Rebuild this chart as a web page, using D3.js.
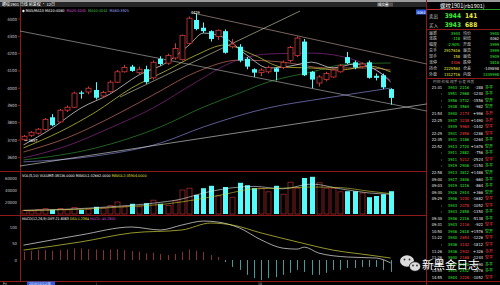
<!DOCTYPE html>
<html>
<head>
<meta charset="utf-8">
<script src="https://cdn.jsdelivr.net/npm/d3@7"></script>
<style>
body { margin: 0; background: #000; overflow: hidden; }
text { font-family: "DejaVu Sans Condensed", "DejaVu Sans", "Noto Sans CJK SC", sans-serif; }
.cn { font-family: "Noto Sans CJK SC", sans-serif; }
</style>
</head>
<body>
<svg id="chart" width="500" height="285"></svg>
<script>
// daily candles
var opens  = [3702,3728,3740,3762,3832,3805,3873,3890,3975,3978,3990,3955,3980,4035,4095,4125,4090,4110,4060,4170,
              4145,4175,4165,4260,4395,4350,4330,4300,4330,4240,4240,4170,4110,4090,4095,4115,4120,4160,4190,4270,
              4095,4030,4050,4065,4095,4180,4150,4125,4150,4072,4075,3995];
var highs  = [3730,3752,3770,3828,3850,3880,3900,3980,3985,4010,4035,3985,4045,4105,4135,4135,4125,4130,4160,4185,
              4200,4260,4310,4415,4429,4380,4335,4340,4340,4285,4255,4180,4115,4115,4130,4120,4160,4245,4300,4285,
              4100,4075,4095,4115,4140,4210,4160,4150,4160,4085,4085,4000];
var lows   = [3697,3718,3732,3755,3780,3798,3862,3885,3940,3965,3935,3945,3975,4030,4090,4095,4080,4025,4050,4130,
              4135,4165,4160,4250,4335,4320,4270,4280,4200,4230,4150,4110,4065,4070,4085,4045,4110,4150,4180,4070,
              4000,4010,4040,4060,4090,4140,4110,4115,4055,4045,3995,3905];
var closes = [3722,3745,3763,3820,3786,3873,3890,3972,3968,4000,3945,3975,4035,4095,4120,4100,4110,4035,4150,4140,
              4190,4230,4305,4405,4342,4330,4285,4335,4205,4255,4160,4125,4090,4105,4120,4095,4150,4235,4290,4075,
              4050,4065,4085,4105,4130,4145,4120,4140,4060,4060,4005,3944];
var volumes = [6000,5000,7000,9000,7000,9000,7000,11000,7000,8000,12000,10000,14000,20000,12000,17000,12000,18000,23000,17000,
               14000,22000,40000,43000,32000,43000,47000,30000,45000,28000,52000,48000,43000,43000,37000,47000,33000,53000,43000,60000,
               62000,52000,43000,43000,37000,38000,38000,35000,28000,30000,33000,38000];
var macdBars = [25,28,30,30,28,30,32,35,35,33,32,30,32,33,30,27,25,20,22,18,
                15,18,25,32,28,24,15,9,-6,-21,-30,-45,-55,-61,-55,-52,-45,-39,-30,-36,
                -45,-45,-39,-30,-30,-24,-24,-21,-21,-21,-30,-36];

// moving averages, read at a few candles: [candle, value]
var ma5  = [[0,3672],[4,3770],[8,3886],[12,3966],[16,4076],[20,4151],[23,4250],[25,4319],[28,4290],[31,4192],[34,4117],[37,4128],[40,4151],[43,4117],[46,4140],[49,4105],[51,4036]];
var ma10 = [[0,3655],[5,3747],[10,3862],[15,4001],[20,4105],[24,4192],[28,4250],[32,4192],[36,4122],[40,4117],[44,4105],[48,4128],[51,4094]];
var ma20 = [[0,3631],[6,3712],[12,3828],[18,3961],[24,4094],[30,4163],[36,4151],[42,4117],[48,4117],[51,4105]];
var ma40 = [[0,3597],[6,3666],[12,3770],[18,3886],[24,4036],[29,4151],[34,4198],[40,4203],[46,4163],[51,4047]];
var ma60 = [[0,3585],[10,3654],[19,3776],[25,3891],[30,3972],[34,4036],[40,4094],[45,4140],[51,4146]];
var ma120 = [[0,3574],[10,3608],[19,3683],[25,3776],[34,3886],[42,3943],[51,4001]];
var trendA = [[-0.5,4331],[56,3868]];
var trendB = [[23.5,4435],[56,4140]];
var trendC = [[13.4,3949],[38.4,4446]];
var trendD = [[-0.5,3550],[56,3909]];
var mavol1 = [[0,6000],[6,8000],[12,12000],[18,18000],[22,25000],[25,35000],[28,42000],[32,46000],[36,42000],[40,50000],[44,42000],[48,35000],[51,33000]];
var mavol2 = [[0,6000],[8,8000],[14,12000],[20,17000],[24,24000],[28,33000],[32,42000],[36,43000],[40,45000],[44,44000],[48,38000],[51,34000]];
var diff = [[0,45],[8,76],[15,100],[19,91],[22,106],[25,118],[27,115],[30,97],[33,61],[36,36],[38,33],[39,39],[41,21],[45,9],[49,6],[51,-9]];
var dea  = [[0,30],[8,55],[15,82],[22,91],[26,112],[29,106],[33,82],[38,55],[43,30],[48,15],[51,6]];

var priceTicks = [3600,3700,3800,3900,4000,4100,4200,4300,4400];
var volTicks = [20000,40000,60000];
var macdTicks = [0,50,100];

// quote panel
var quoteLeft  = [["最新","3944"],["涨跌","-118"],["幅度","-2.90%"],["总手","2917616"],["现手","158"],["涨停","4306"],["持仓","2229564"],["外盘","1312716"]];
var quoteRight = [["均价","3940"],["前结","4062"],["开盘","3999"],["最高","3999"],["最低","3909"],["跌停","3818"],["仓差","-149898"],["内盘","1339998"]];
var tickTimes  = ["21:31",":",":",":","21:54","22:25",":","22:29","22:35","22:52",":",":",":","22:58","09:00","09:03","09:30","09:29",":",":","09:30","09:31","10:50","11:22",":","11:26","11:26","13:31","13:55","14:55"];
var tickPrices = [3943,3951,3956,3938,3940,3937,3939,3931,3931,3913,3911,3911,3919,3913,3917,3919,3926,3946,3943,3943,3946,3943,3946,3940,3936,3936,3940,3937,3945,3944];
var tickVols   = [2216,2968,3732,3564,2174,3238,5964,2856,3186,2720,2882,5212,2906,3812,3846,3216,2914,3240,2078,2858,2216,2116,2618,2654,3142,2932,2168,2470,2532,2226];
var tickDiffs  = ["-288","-1240","-1556","-982","+996","+1490","-1442","-1286","-1264","+1676","-756","-2524","-1150","+1486","-660","-864","+366","-1682","-1052","-1350","-5138","-922","+1576","-1226","-1812","+326","-1244","-1090","-2876","-1052"];
var tickTypes  = ["多平","多平","空开","空开","多开","多开","空平","空平","多平","空开","多平","空平","多平","空开","多平","多平","空开","空平","空平","多平","多平","空平","空开","空平","空平","多开","空平","多平","多平","空平"];

var RED = "#d03a3a", CYAN = "#54fcfc", FRAME = "#8c1a1a";

var svg = d3.select("#chart");
svg.append("rect").attr("width", 500).attr("height", 285).attr("fill", "#000");

var x = d3.scaleLinear().domain([0, 51]).range([23.5, 390.7]);
var y = d3.scaleLinear().domain([3527, 4464]).range([170, 8]);
var yv = d3.scaleLinear().domain([0, 60000]).range([214, 178]);
var ym = d3.scaleLinear().domain([0, 100]).range([260, 227]);

var defs = svg.append("defs");
defs.append("clipPath").attr("id", "mainClip").append("rect").attr("x", 20).attr("y", 8).attr("width", 407).attr("height", 163);
defs.append("clipPath").attr("id", "macdClip").append("rect").attr("x", 20).attr("y", 216).attr("width", 407).attr("height", 65);

// top strip
svg.append("rect").attr("x", 0).attr("y", 0).attr("width", 500).attr("height", 2).attr("fill", "#9a9a9a");
svg.append("rect").attr("x", 0).attr("y", 2).attr("width", 427).attr("height", 5).attr("fill", "#262626");
svg.append("text").attr("class", "cn").attr("x", 2).attr("y", 6).attr("font-size", 4).attr("fill", "#fff").text("螺纹1901 日线 前复权 · 12日");
svg.append("rect").attr("x", 377).attr("y", 2.5).attr("width", 16).attr("height", 4).attr("fill", "#555");
svg.append("text").attr("class", "cn").attr("x", 378).attr("y", 6).attr("font-size", 3.5).attr("fill", "#fff").text("成交量");

// frames
var frame = svg.append("g").attr("stroke", FRAME).attr("stroke-width", 1).attr("shape-rendering", "crispEdges");
frame.append("line").attr("x1", 20.5).attr("x2", 20.5).attr("y1", 7).attr("y2", 281);
frame.append("line").attr("x1", 426.5).attr("x2", 426.5).attr("y1", 0).attr("y2", 285);
frame.append("line").attr("x1", 0).attr("x2", 427).attr("y1", 171.5).attr("y2", 171.5);
frame.append("line").attr("x1", 0).attr("x2", 427).attr("y1", 215.5).attr("y2", 215.5);
frame.append("line").attr("x1", 0).attr("x2", 500).attr("y1", 281.5).attr("y2", 281.5);

// legend
var legend = [["◆ MA5/MA10 MA10:4080", "#ffffff"], ["MA20:4045", "#d050d0"], ["MA40:4042", "#40c040"], ["MA60:3925", "#a0a0ff"]];
var lx = 22;
legend.forEach(function(d) {
	var t = svg.append("text").attr("x", lx).attr("y", 11.5).attr("font-size", 3.8).attr("fill", d[1]).text(d[0]);
	lx += t.node().getComputedTextLength() + 2;
});

// price axis
svg.append("g").selectAll("text").data(priceTicks).enter().append("text")
	.attr("x", 17).attr("y", function(d) { return y(d) + 1.5; })
	.attr("text-anchor", "end").attr("font-size", 4.3).attr("fill", "#c8c8c8")
	.text(function(d) { return d; });
svg.append("g").selectAll("line").data(priceTicks).enter().append("line")
	.attr("x1", 18).attr("x2", 20).attr("y1", function(d) { return y(d); }).attr("y2", function(d) { return y(d); })
	.attr("stroke", FRAME);

var main = svg.append("g").attr("clip-path", "url(#mainClip)");
var pline = d3.line().x(function(d) { return x(d[0]); }).y(function(d) { return y(d[1]); }).curve(d3.curveMonotoneX);
var straight = d3.line().x(function(d) { return x(d[0]); }).y(function(d) { return y(d[1]); });

[[ma120, "#8282d0"], [ma60, "#2f8a2f"], [ma40, "#8a2a86"], [ma20, "#c87060"], [ma10, "#d4d440"], [ma5, "#e8e8e8"]].forEach(function(s) {
	main.append("path").datum(s[0]).attr("d", pline).attr("fill", "none").attr("stroke", s[1]).attr("stroke-width", 0.7);
});
[[trendA, "#bdbdbd"], [trendB, "#c8a8a0"], [trendC, "#d8d8b0"], [trendD, "#e0e0e0"]].forEach(function(s) {
	main.append("path").datum(s[0]).attr("d", straight).attr("fill", "none").attr("stroke", s[1]).attr("stroke-width", 0.6);
});

// candles
var idx = d3.range(closes.length);
var up = function(i) { return closes[i] >= opens[i]; };
var candles = main.append("g").selectAll("g").data(idx).enter().append("g");
candles.append("line")
	.attr("x1", function(i) { return Math.round(x(i)) + 0.5; }).attr("x2", function(i) { return Math.round(x(i)) + 0.5; })
	.attr("y1", function(i) { return y(highs[i]); }).attr("y2", function(i) { return y(lows[i]); })
	.attr("stroke", function(i) { return up(i) ? RED : CYAN; }).attr("stroke-width", 1);
candles.append("rect")
	.attr("x", function(i) { return Math.round(x(i)) - 2; })
	.attr("width", 5)
	.attr("y", function(i) { return y(Math.max(opens[i], closes[i])); })
	.attr("height", function(i) { return Math.max(1, y(Math.min(opens[i], closes[i])) - y(Math.max(opens[i], closes[i]))); })
	.attr("fill", function(i) { return up(i) ? "#000" : CYAN; })
	.attr("stroke", function(i) { return up(i) ? RED : "none"; })
	.attr("stroke-width", 0.8);

// high / low marks
var hi = d3.maxIndex(highs), lo = d3.minIndex(lows);
svg.append("text").attr("x", x(hi) - 1).attr("y", y(highs[hi]) - 0.5).attr("text-anchor", "middle")
	.attr("font-size", 4).attr("fill", "#fff").text(highs[hi]);
svg.append("line").attr("x1", x(lo) + 1).attr("x2", x(lo) + 4).attr("y1", y(lows[lo])).attr("y2", y(lows[lo])).attr("stroke", "#fff").attr("stroke-width", 0.6);
svg.append("text").attr("x", x(lo) + 5).attr("y", y(lows[lo]) + 1.5).attr("font-size", 4).attr("fill", "#fff").text(lows[lo]);

// max label box
svg.append("rect").attr("x", 416).attr("y", 9.5).attr("width", 10).attr("height", 5).attr("fill", "#2d5ad8");
svg.append("text").attr("x", 421).attr("y", 13.5).attr("text-anchor", "middle").attr("font-size", 3.8).attr("fill", "#fff").text(y.domain()[1]);

// volume panel
svg.append("text").attr("x", 22).attr("y", 176.5).attr("font-size", 3.7).attr("fill", "#fff")
	.text("VOL(5,10) VOLUME:38136.0000 MAVOL1:32662.0000 ")
	.append("tspan").attr("fill", "#e0e040").text("MAVOL2:35904.0000");
svg.append("g").selectAll("text").data(volTicks).enter().append("text")
	.attr("x", 17).attr("y", function(d) { return yv(d) + 1.5; }).attr("text-anchor", "end")
	.attr("font-size", 4.2).attr("fill", "#c8c8c8").text(function(d) { return d; });
svg.append("g").selectAll("rect").data(idx).enter().append("rect")
	.attr("x", function(i) { return Math.round(x(i)) - 2; }).attr("width", 5)
	.attr("y", function(i) { return yv(volumes[i]); })
	.attr("height", function(i) { return yv(0) - yv(volumes[i]); })
	.attr("fill", function(i) { return up(i) ? "#000" : CYAN; })
	.attr("stroke", function(i) { return up(i) ? "#a02a2a" : "none"; })
	.attr("stroke-width", 0.8);
var vline = d3.line().x(function(d) { return x(d[0]); }).y(function(d) { return yv(d[1]); }).curve(d3.curveMonotoneX);
svg.append("path").datum(mavol1).attr("d", vline).attr("fill", "none").attr("stroke", "#e8e8e8").attr("stroke-width", 0.6);
svg.append("path").datum(mavol2).attr("d", vline).attr("fill", "none").attr("stroke", "#d4d440").attr("stroke-width", 0.6);

// MACD panel
svg.append("text").attr("x", 22).attr("y", 219.5).attr("font-size", 3.6).attr("fill", "#fff")
	.text("MACD(12,26,9) DIFF:21.6063 ")
	.append("tspan").attr("fill", "#e0e040").text("DEA:1.2364 ")
	.append("tspan").attr("fill", "#d050d0").text("MACD:-45.2800");
svg.append("g").selectAll("text").data(macdTicks).enter().append("text")
	.attr("x", 17).attr("y", function(d) { return ym(d) + 1.5; }).attr("text-anchor", "end")
	.attr("font-size", 4.2).attr("fill", "#c8c8c8").text(function(d) { return d; });
var macd = svg.append("g").attr("clip-path", "url(#macdClip)");
macd.append("g").selectAll("line").data(idx).enter().append("line")
	.attr("x1", function(i) { return Math.round(x(i)) + 0.5; }).attr("x2", function(i) { return Math.round(x(i)) + 0.5; })
	.attr("y1", ym(0)).attr("y2", function(i) { return ym(macdBars[i]); })
	.attr("stroke", function(i) { return macdBars[i] >= 0 ? "#c04848" : "#60e0e0"; }).attr("stroke-width", 0.7);
var mline = d3.line().x(function(d) { return x(d[0]); }).y(function(d) { return ym(d[1]); }).curve(d3.curveMonotoneX);
macd.append("path").datum(diff).attr("d", mline).attr("fill", "none").attr("stroke", "#e8e8e8").attr("stroke-width", 0.7);
macd.append("path").datum(dea).attr("d", mline).attr("fill", "none").attr("stroke", "#d4d440").attr("stroke-width", 0.7);

// bottom strip
svg.append("text").attr("x", 3).attr("y", 284.5).attr("font-size", 3.8).attr("fill", "#ccc").text("Fri");
svg.append("rect").attr("x", 27).attr("y", 281.5).attr("width", 28).attr("height", 3.5).attr("fill", "#2d5ad8");
svg.append("text").attr("x", 29).attr("y", 284.7).attr("font-size", 3.4).attr("fill", "#fff").text("2018/10/12/五");
svg.append("text").attr("x", 96).attr("y", 284.7).attr("font-size", 3.4).attr("fill", "#ccc").text("|");
svg.append("text").attr("x", 258).attr("y", 284.7).attr("font-size", 3.4).attr("fill", "#ccc").text("10");

// right quote panel
var panel = svg.append("g");
panel.append("text").attr("class", "cn").attr("x", 440).attr("y", 7.5).attr("font-size", 5.5).attr("fill", "#fff").text("螺纹1901(rb1901)");
panel.append("line").attr("x1", 427).attr("x2", 462).attr("y1", 9.5).attr("y2", 9.5).attr("stroke", "#c83232");
panel.append("line").attr("x1", 462).attr("x2", 500).attr("y1", 9.5).attr("y2", 9.5).attr("stroke", "#2a9a2a");
[["卖出", "3944", "141", 17.5], ["买入", "3943", "688", 26.5]].forEach(function(r) {
	panel.append("text").attr("class", "cn").attr("x", 429).attr("y", r[3]).attr("font-size", 4.5).attr("fill", "#c8c8c8").text(r[0]);
	panel.append("text").attr("x", 461).attr("y", r[3]).attr("text-anchor", "end").attr("font-size", 6.5).attr("font-weight", "bold").attr("fill", "#3cf03c").text(r[1]);
	panel.append("text").attr("x", 465).attr("y", r[3]).attr("font-size", 6.5).attr("font-weight", "bold").attr("fill", "#f0f040").text(r[2]);
});
panel.append("line").attr("x1", 427).attr("x2", 500).attr("y1", 29.5).attr("y2", 29.5).attr("stroke", FRAME);
quoteLeft.forEach(function(r, k) {
	var yy = 34.5 + k * 5.9;
	panel.append("text").attr("class", "cn").attr("x", 429).attr("y", yy).attr("font-size", 4).attr("fill", "#c8c8c8").text(r[0]);
	panel.append("text").attr("x", 460).attr("y", yy).attr("text-anchor", "end").attr("font-size", 4).
		attr("fill", k < 3 ? "#3cf03c" : (k === 5 ? "#ff4040" : "#f0f040")).text(r[1]);
	var q = quoteRight[k];
	panel.append("text").attr("class", "cn").attr("x", 463).attr("y", yy).attr("font-size", 4).attr("fill", "#c8c8c8").text(q[0]);
	panel.append("text").attr("x", 499).attr("y", yy).attr("text-anchor", "end").attr("font-size", 4)
		.attr("fill", k === 1 ? "#e8e8e8" : (k === 6 ? "#e8e8e8" : "#3cf03c")).text(q[1]);
});
panel.append("line").attr("x1", 427).attr("x2", 500).attr("y1", 78.5).attr("y2", 78.5).attr("stroke", FRAME);
panel.append("text").attr("class", "cn").attr("x", 433).attr("y", 83).attr("font-size", 3.8).attr("fill", "#a0a0a0")
	.text("时间    价格   现手    仓差   性质");
var typeColor = function(t) { return (t === "多开" || t === "空平") ? "#ff4040" : "#3cf03c"; };
tickTimes.forEach(function(t, k) {
	var yy = 88.8 + k * 6.55;
	panel.append("text").attr("x", 442).attr("y", yy).attr("text-anchor", "end").attr("font-size", 4).attr("fill", "#e8e8e8").text(t);
	panel.append("text").attr("x", 457).attr("y", yy).attr("text-anchor", "end").attr("font-size", 4).attr("fill", "#3cf03c").text(tickPrices[k]);
	panel.append("text").attr("x", 469).attr("y", yy).attr("text-anchor", "end").attr("font-size", 4).attr("fill", typeColor(tickTypes[k])).text(tickVols[k]);
	panel.append("text").attr("x", 483).attr("y", yy).attr("text-anchor", "end").attr("font-size", 4).attr("fill", "#e8e8e8").text(tickDiffs[k]);
	panel.append("text").attr("class", "cn").attr("x", 485).attr("y", yy).attr("font-size", 4).attr("fill", typeColor(tickTypes[k])).text(tickTypes[k]);
});

// watermark
var wm = svg.append("g");
wm.append("ellipse").attr("cx", 407).attr("cy", 261).attr("rx", 7).attr("ry", 5.8).attr("fill", "#dcdcdc");
wm.append("ellipse").attr("cx", 415).attr("cy", 266.5).attr("rx", 5.6).attr("ry", 4.8).attr("fill", "#dcdcdc").attr("stroke", "#000").attr("stroke-width", 0.8);
[[404.5, 259.5], [409.5, 259.5], [413, 265.5], [417, 265.5]].forEach(function(p) {
	wm.append("circle").attr("cx", p[0]).attr("cy", p[1]).attr("r", 0.9).attr("fill", "#333");
});
wm.append("text").attr("class", "cn").attr("x", 422).attr("y", 268.5).attr("font-size", 11.5).attr("fill", "#fff").text("新黑金日志");
</script>
</body>
</html>
